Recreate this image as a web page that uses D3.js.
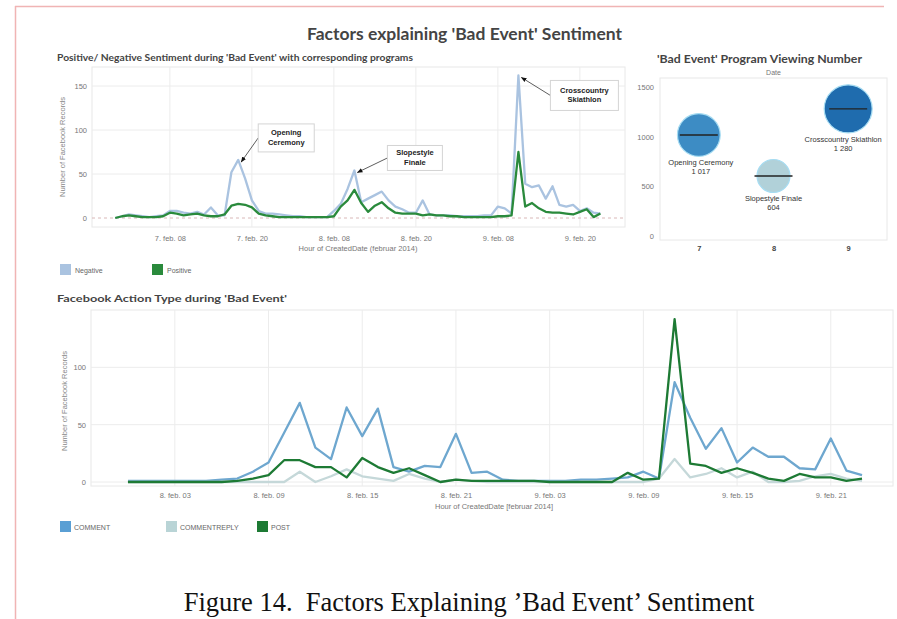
<!DOCTYPE html>
<html><head><meta charset="utf-8">
<script src="https://cdn.jsdelivr.net/npm/d3@7"></script>
<style>body{margin:0;background:#fff} svg{display:block}</style>
</head><body>
<svg id="c" width="897" height="619"></svg>
<script>
// ---------- DATA ----------
const sentimentStart = "2014-02-07T00:00:00Z"; // hourly from here
const negative = [0,2,4,3,2,1,2,3, 8,8,6,5,7,4,12,3, 3,52,66,45,20,8,5,5, 4,3,2,2,1,1,1,1,
  8,16,33,54,18,22,26,30, 20,13,10,6,6,20,4,3, 3,3,2,2,2,2,3,3, 13,11,5,162,39,35,37,22, 36,15,13,15,8,11,6,5];
const positive = [0,2,3,2,1,1,1,2, 6,5,3,4,5,3,2,2, 4,14,16,15,12,5,3,2, 1,1,1,1,1,1,1,1,
  2,13,20,32,17,7,14,18, 11,6,5,5,5,3,4,3, 3,2,2,1,1,1,1,1, 2,2,3,75,13,17,11,7, 6,6,5,4,7,10,1,5];
const sentimentTicks = ["2014-02-07T08:00:00Z","2014-02-07T20:00:00Z","2014-02-08T08:00:00Z",
  "2014-02-08T20:00:00Z","2014-02-09T08:00:00Z","2014-02-09T20:00:00Z"];
const sentimentYTicks = [0,50,100,150];
const sentimentNames = ["Negative","Positive"];
const annotations = [
  {lines:["Opening","Ceremony"], time:"2014-02-07T18:00:00Z", value:66},
  {lines:["Slopestyle","Finale"], time:"2014-02-08T11:00:00Z", value:54},
  {lines:["Crosscountry","Skiathlon"], time:"2014-02-09T11:00:00Z", value:162}
];

const actionStart = "2014-02-08T00:00:00Z";
const comment = [1,1,1,1,1,1,2,3, 9,17,43,69,30,20,65,40, 64,13,9,14,13,42,8,9,
  2,1,1,1,1,2,2,3, 4,9,3,87,56,29,47,17, 30,22,22,12,11,38,10,6];
const commentReply = [0,0,0,0,0,0,0,0, 0,0,0,9,0,5,11,5, 3,1,7,3,0,2,1,0,
  0,0,0,0,0,0,0,0, 0,0,3,20,4,7,12,4, 9,0,0,1,5,7,3,1];
const post = [0,0,0,0,0,0,0,1, 3,6,19,19,13,13,4,21, 13,8,12,6,0,2,1,1,
  1,1,1,0,0,0,0,0, 8,2,3,142,16,14,8,12, 8,3,1,7,4,4,1,3];
const actionTicks = ["2014-02-08T03:00:00Z","2014-02-08T09:00:00Z","2014-02-08T15:00:00Z",
  "2014-02-08T21:00:00Z","2014-02-09T03:00:00Z","2014-02-09T09:00:00Z","2014-02-09T15:00:00Z","2014-02-09T21:00:00Z"];
const actionYTicks = [0,50,100];
const actionNames = ["COMMENT","COMMENTREPLY","POST"];

const viewDates = ["7","8","9"];
const viewPrograms = ["Opening Ceremony","Slopestyle Finale","Crosscountry Skiathlon"];
const viewValues = [1017,604,1280];
const viewValueLabels = ["1 017","604","1 280"];
const viewYTicks = [0,500,1000,1500];

// ---------- STYLE ----------
const C = {neg:"#aac3e0", pos:"#2a8a3c", comment:"#6ea7cf", reply:"#c5d8d9", post:"#1d7a34",
  bubbles:["#3d8cc4","#b1d1d9","#1f6cae"], grid:"#ececec", tick:"#777", title:"#444"};
const svg = d3.select("#c");
const hour = 3600e3;
const series = (start, vals) => vals.map((v,i)=>({t:new Date(new Date(start).getTime()+i*hour), v}));
const fmt = d => `${d.getUTCDate()}. feb. ${String(d.getUTCHours()).padStart(2,"0")}`;
const sans = "'Liberation Sans', Arial, sans-serif";
const bold = "Lato, 'Open Sans', sans-serif";

// frame
svg.append("line").attr("x1",15.5).attr("x2",15.5).attr("y1",6).attr("y2",619).attr("stroke","#f0b4b4").attr("stroke-width",1.5);
svg.append("line").attr("x1",15).attr("x2",884).attr("y1",6.5).attr("y2",6.5).attr("stroke","#f0b4b4").attr("stroke-width",1.5);

function title(txt,x,y,size,len){
  svg.append("text").attr("x",x).attr("y",y).attr("font-family",bold).attr("font-weight","bold")
    .attr("font-size",size).attr("fill",C.title).attr("textLength",len).attr("lengthAdjust","spacingAndGlyphs").text(txt);
}

// ---------- TOP LINE CHART ----------
{
  const L=92,R=625,T=67,B=227;
  const x = d3.scaleUtc().domain([new Date("2014-02-06T20:36:00Z"), new Date("2014-02-10T02:36:00Z")]).range([L,R]);
  const y = d3.scaleLinear().domain([0,150]).range([218,86]);
  const g = svg.append("g");
  g.append("rect").attr("x",L).attr("y",T).attr("width",R-L).attr("height",B-T).attr("fill","#fff").attr("stroke","#e8e8e8");
  const ticks = sentimentTicks.map(d=>new Date(d));
  g.append("g").selectAll("line").data(ticks).join("line").attr("x1",d=>x(d)).attr("x2",d=>x(d))
    .attr("y1",T).attr("y2",B).attr("stroke",C.grid);
  g.append("g").selectAll("line").data(sentimentYTicks.filter(d=>d>0)).join("line").attr("x1",L).attr("x2",R)
    .attr("y1",d=>y(d)).attr("y2",d=>y(d)).attr("stroke",C.grid);
  g.append("line").attr("x1",L).attr("x2",R).attr("y1",y(0)).attr("y2",y(0)).attr("stroke","#d9b8b8").attr("stroke-dasharray","3,3");
  const xa = g.append("g").attr("transform",`translate(0,${B})`).call(d3.axisBottom(x).tickValues(ticks).tickFormat(fmt).tickSize(0).tickPadding(9));
  const ya = g.append("g").attr("transform",`translate(${L},0)`).call(d3.axisLeft(y).tickValues(sentimentYTicks).tickSize(0).tickPadding(5));
  [xa,ya].forEach(a=>{a.select(".domain").remove(); a.selectAll("text").attr("font-family",sans).attr("font-size",7.5).attr("fill",C.tick);});
  g.append("text").attr("x",358).attr("y",251).attr("text-anchor","middle").attr("font-family",sans).attr("font-size",7.5).attr("fill","#777")
    .text("Hour of CreatedDate (februar 2014)");
  g.append("text").attr("transform","translate(65,147) rotate(-90)").attr("text-anchor","middle").attr("font-family",sans)
    .attr("font-size",7.5).attr("fill","#888").text("Number of Facebook Records");
  const line = d3.line().x(d=>x(d.t)).y(d=>y(d.v));
  g.append("path").datum(series(sentimentStart,negative)).attr("d",line).attr("fill","none").attr("stroke",C.neg).attr("stroke-width",2.3).attr("stroke-linejoin","round");
  g.append("path").datum(series(sentimentStart,positive)).attr("d",line).attr("fill","none").attr("stroke",C.pos).attr("stroke-width",2.3).attr("stroke-linejoin","round");

  // annotations
  const defs = svg.append("defs");
  defs.append("marker").attr("id","ah").attr("viewBox","0 0 10 10").attr("refX",9).attr("refY",5)
    .attr("markerWidth",7).attr("markerHeight",7).attr("orient","auto-start-reverse")
    .append("path").attr("d","M0,1 L10,5 L0,9 z").attr("fill","#111");
  const boxes = [{dx:20,dy:-36,w:56,h:28},{dx:33,dy:-25,w:55,h:25},{dx:32,dy:5,w:68,h:30}];
  annotations.forEach((a,i)=>{
    const px = x(new Date(a.time)), py = y(a.value), b = boxes[i];
    const bx = px+b.dx, by = py+b.dy;
    g.append("line").attr("x1",bx).attr("y1",by+b.h/2).attr("x2",px+3).attr("y2",py+2)
      .attr("stroke","#333").attr("stroke-width",0.8).attr("marker-end","url(#ah)");
    g.append("rect").attr("x",bx).attr("y",by).attr("width",b.w).attr("height",b.h).attr("fill","#fff").attr("stroke","#d4d4d4");
    a.lines.forEach((s,j)=>g.append("text").attr("x",bx+b.w/2).attr("y",by+b.h/2-2.5+j*9.5)
      .attr("text-anchor","middle").attr("font-family",sans).attr("font-weight","bold").attr("font-size",7.5).attr("fill","#222").text(s));
  });

  // legend
  const lg = svg.append("g").attr("font-family",sans).attr("font-size",7).attr("fill","#666");
  [[60,C.neg],[152,C.pos]].forEach(([lx,col],i)=>{
    lg.append("rect").attr("x",lx).attr("y",264).attr("width",11).attr("height",11).attr("fill",col);
    lg.append("text").attr("x",lx+15).attr("y",272.5).text(sentimentNames[i]);
  });
}

// ---------- BUBBLE CHART ----------
{
  const L=660,R=887,T=78,B=240;
  const x = d3.scalePoint().domain(viewDates).range([L,R]).padding(0.52);
  const y = d3.scaleLinear().domain([0,1500]).range([236,87]);
  const r = d3.scaleSqrt().domain([0,1280]).range([0,24]);
  const g = svg.append("g");
  g.append("rect").attr("x",L).attr("y",T).attr("width",R-L).attr("height",B-T).attr("fill","#fff").attr("stroke","#e8e8e8");
  g.append("text").attr("x",(L+R)/2).attr("y",75).attr("text-anchor","middle").attr("font-family",sans).attr("font-size",7).attr("fill","#777").text("Date");
  const xa = g.append("g").attr("transform",`translate(0,${B})`).call(d3.axisBottom(x).tickSize(0).tickPadding(6));
  const ya = g.append("g").attr("transform",`translate(${L},0)`).call(d3.axisLeft(y).tickValues(viewYTicks).tickFormat(d3.format("d")).tickSize(0).tickPadding(6));
  [xa,ya].forEach(a=>{a.select(".domain").remove(); a.selectAll("text").attr("font-family",sans).attr("font-size",7.5).attr("fill",C.tick);});
  xa.selectAll("text").attr("fill","#444").attr("font-weight","bold");
  const data = viewDates.map((d,i)=>({d, p:viewPrograms[i], v:viewValues[i], lab:viewValueLabels[i], c:C.bubbles[i]}));
  g.selectAll("circle").data(data).join("circle").attr("cx",d=>x(d.d)).attr("cy",d=>y(d.v)).attr("r",d=>r(d.v))
    .attr("fill",d=>d.c).attr("stroke","#a6dcf2").attr("stroke-width",1.2);
  g.selectAll("line.ref").data(data).join("line").attr("class","ref").attr("x1",d=>x(d.d)-19).attr("x2",d=>x(d.d)+19)
    .attr("y1",d=>y(d.v)).attr("y2",d=>y(d.v)).attr("stroke","#222").attr("stroke-width",1.4);
  const lab = g.selectAll("g.lab").data(data).join("g").attr("class","lab").attr("font-family",sans).attr("font-size",7.5).attr("fill","#333").attr("text-anchor","middle");
  lab.append("text").attr("x",(d,i)=>x(d.d)+[2,0,-5][i]).attr("y",d=>y(d.v)+r(d.v)+9).text(d=>d.p);
  lab.append("text").attr("x",(d,i)=>x(d.d)+[2,0,-5][i]).attr("y",d=>y(d.v)+r(d.v)+18).text(d=>d.lab);
}

// ---------- BOTTOM LINE CHART ----------
{
  const L=91,R=893,T=310,B=486;
  const x = d3.scaleUtc().domain([new Date("2014-02-07T21:38:00Z"), new Date("2014-02-10T00:59:00Z")]).range([L,R]);
  const y = d3.scaleLinear().domain([0,150]).range([482,310]);
  const g = svg.append("g");
  g.append("rect").attr("x",L).attr("y",T).attr("width",R-L).attr("height",B-T).attr("fill","#fff").attr("stroke","#e8e8e8");
  const ticks = actionTicks.map(d=>new Date(d));
  g.append("g").selectAll("line").data(ticks).join("line").attr("x1",d=>x(d)).attr("x2",d=>x(d))
    .attr("y1",T).attr("y2",B).attr("stroke",C.grid);
  g.append("g").selectAll("line").data([0,50,100]).join("line").attr("x1",L).attr("x2",R)
    .attr("y1",d=>y(d)).attr("y2",d=>y(d)).attr("stroke",C.grid);
  const xa = g.append("g").attr("transform",`translate(0,${B})`).call(d3.axisBottom(x).tickValues(ticks).tickFormat(fmt).tickSize(0).tickPadding(7));
  const ya = g.append("g").attr("transform",`translate(${L},0)`).call(d3.axisLeft(y).tickValues(actionYTicks).tickSize(0).tickPadding(5));
  [xa,ya].forEach(a=>{a.select(".domain").remove(); a.selectAll("text").attr("font-family",sans).attr("font-size",7.5).attr("fill",C.tick);});
  g.append("text").attr("x",494).attr("y",509).attr("text-anchor","middle").attr("font-family",sans).attr("font-size",7.5).attr("fill","#777")
    .text("Hour of CreatedDate [februar 2014]");
  g.append("text").attr("transform","translate(67,401) rotate(-90)").attr("text-anchor","middle").attr("font-family",sans)
    .attr("font-size",7.5).attr("fill","#888").text("Number of Facebook Records");
  const line = d3.line().x(d=>x(d.t)).y(d=>y(d.v));
  [[comment,C.comment],[commentReply,C.reply],[post,C.post]].forEach(([vals,col])=>{
    g.append("path").datum(series(actionStart,vals)).attr("d",line).attr("fill","none").attr("stroke",col)
      .attr("stroke-width",2.3).attr("stroke-linejoin","round");
  });
  const lg = svg.append("g").attr("font-family",sans).attr("font-size",7).attr("fill","#666");
  [[60,"#5a9fd4"],[166,"#b9d4d6"],[257,C.post]].forEach(([lx,col],i)=>{
    lg.append("rect").attr("x",lx).attr("y",521).attr("width",11).attr("height",11).attr("fill",col);
    lg.append("text").attr("x",lx+14).attr("y",529.5).text(actionNames[i]);
  });
}

// titles (drawn last)
title("Factors explaining 'Bad Event' Sentiment",307,40,17,315);
title("Positive/ Negative Sentiment during 'Bad Event' with corresponding programs",57,61,9.5,356);
title("'Bad Event' Program Viewing Number",657,63,11.5,205);
title("Facebook Action Type during 'Bad Event'",57,302,10,230);

// caption
svg.append("text").attr("x",469).attr("y",611).attr("text-anchor","middle").attr("font-family","'Liberation Serif', 'Times New Roman', serif")
  .attr("font-size",26.5).attr("fill","#111").style("white-space","pre").text("Figure 14.  Factors Explaining ’Bad Event’ Sentiment");
</script>
</body></html>
